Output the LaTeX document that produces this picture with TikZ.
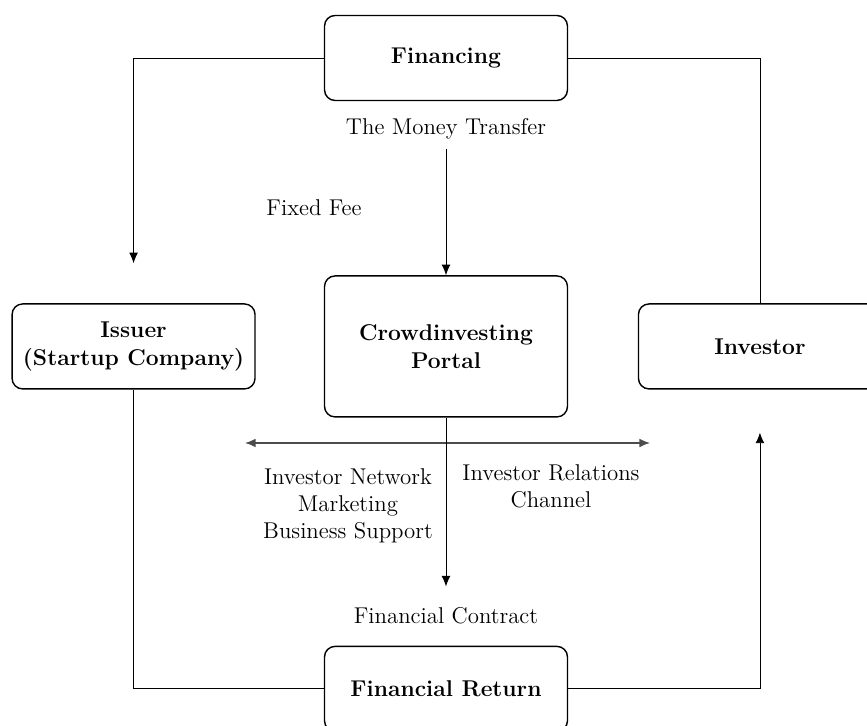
\documentclass[tikz,border=0pt]{standalone}
\usetikzlibrary{arrows.meta}

\begin{document}
\begin{tikzpicture}[
            x=0.02cm, y=0.02cm,
            box/.style={rectangle, draw=black, text centered, align=center, rounded corners=6pt,
                        minimum width=4.86cm, minimum height=1.7cm, line width=0.8pt,
                        font=\fontsize{13}{16}\selectfont\bfseries},
            tallbox/.style={box, minimum height=2.82cm},
            note/.style={align=center, font=\fontsize{13}{15.5}\selectfont},
            arrow/.style={->, >={Latex[length=6pt,width=5pt]}, line width=0.5pt},
            link/.style={line width=0.5pt}
        ]
            \clip (0,0) rectangle (867,726);

            \node[box] (fin) at (446,668) {Financing};
            \node[tallbox, below of=fin, node distance=5.77cm] (portal) {Crowdinvesting\\Portal};
            \node[box, left of=portal, node distance=6.25cm] (issuer) {Issuer\\(Startup Company)};
            \node[box, right of=portal, node distance=6.28cm] (investor) {Investor};
            \node[box, below of=portal, node distance=6.85cm] (ret) {Financial Return};

            \node[note] (money) at (446,597) {The Money Transfer};
            \node[note] (fee) at (314,518) {Fixed Fee};
            \node[note] (network) at (348,220) {Investor Network\\Marketing\\Business Support};
            \node[note] (relations) at (551,240) {Investor Relations\\Channel};
            \node[note] (contract) at (446,110) {Financial Contract};

            % Services line
            \coordinate (netw) at (245,283);
            \coordinate (chan) at (650,283);
            \draw[arrow, <->, line width=0.9pt, black!70] (netw) -- (chan);

            \draw[arrow] (fin.west) -| ([yshift=0.8cm]issuer.north);
            \draw[link] (fin.east) -| (investor.north);
            \draw[arrow] ([yshift=-2pt]money.south) -- (portal.north);
            \draw[arrow] (portal.south) -- ([yshift=0.3cm]contract.north);

            % Return flow
            \draw[link] (issuer.south) |- (ret.west);
            \draw[arrow] (ret.east) -| ([yshift=-0.86cm]investor.south);
        \end{tikzpicture}
\end{document}
